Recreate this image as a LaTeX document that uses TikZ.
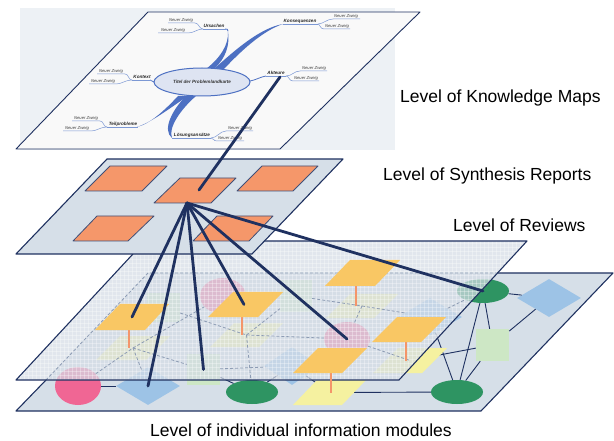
\documentclass[tikz,border=0pt]{standalone}
\usepackage{fontspec}
\setmainfont{Liberation Sans}
\usetikzlibrary{shapes.geometric}

\definecolor{navy}{HTML}{1F3160}
\definecolor{planefill}{HTML}{D6DFE8}
\definecolor{revfill}{HTML}{D5DDE6}
\definecolor{orangebox}{HTML}{F5976A}
\definecolor{yellowbox}{HTML}{F9C764}
\definecolor{stemcol}{HTML}{F4956A}
\definecolor{pinkmod}{HTML}{F06694}
\definecolor{bluemod}{HTML}{9DC3E6}
\definecolor{greenmod}{HTML}{2E9462}
\definecolor{lgreenmod}{HTML}{CDE7C5}
\definecolor{lyellowmod}{HTML}{F5F1A0}
\definecolor{dashcol}{HTML}{8D9CB4}
\definecolor{mapbg}{HTML}{EDF1F5}
\definecolor{mapplane}{HTML}{F9F9F9}
\definecolor{mapblue}{HTML}{4D70C2}
\definecolor{mapthin}{HTML}{7C98D4}
\definecolor{ellfill}{HTML}{DEE4F2}

\begin{document}
\begin{tikzpicture}[x=1pt,y=-1pt,
  plane/.style={fill=planefill,draw=navy,line width=1.1pt,line join=round},
  orangerect/.style={fill=orangebox,draw=navy!85,line width=0.8pt,line join=round},
  reviewrect/.style={fill=yellowbox},
  stem/.style={draw=stemcol,line width=2.4pt},
  ray/.style={draw=navy,line width=2.8pt,line cap=round},
  link/.style={draw=navy,line width=0.9pt},
  hidlink/.style={draw=dashcol,line width=0.8pt,dash pattern=on 3pt off 2pt},
  gridl/.style={draw=white,line width=0.5pt,opacity=0.32},
  pinkdot/.style={ellipse,fill=pinkmod,minimum width=46pt,minimum height=38pt,inner sep=0pt},
  bluedia/.style={diamond,fill=bluemod,minimum width=64pt,minimum height=38pt,inner sep=0pt},
  lgsq/.style={rectangle,fill=lgreenmod,minimum width=33pt,minimum height=31pt,inner sep=0pt},
  greenell/.style={ellipse,fill=greenmod,minimum width=52pt,minimum height=24pt,inner sep=0pt},
  mapline/.style={draw=mapthin,line width=0.5pt},
  mtext/.style={font=\fontsize{4.2}{5}\selectfont\itshape,text=black!75,inner sep=0pt},
  mtopic/.style={font=\fontsize{4.6}{5}\selectfont\bfseries\itshape,text=black!85,inner sep=0pt},
  lbl/.style={font=\fontsize{17.5}{20}\selectfont,anchor=west,inner sep=0pt,text=black}]
\useasboundingbox (0,0) rectangle (614,441);

% ---------- knowledge map level ----------
\fill[mapbg] (20,8) rectangle (395,150);
\draw[plane,fill=mapplane,line width=0.9pt] (148,12) -- (420,12) -- (280,149) -- (16,149) -- cycle;

% tapered main branches
\fill[mapblue] (206,69) .. controls (220,58) and (229,45) .. (228,31) .. controls (230,45) and (226,58) .. (214,69) -- cycle;
\draw[mapline,line width=0.8pt,draw=mapblue] (228,31) .. controls (228,29) and (227,29) .. (225,29);
\fill[mapblue] (214,69) .. controls (235,50) and (260,28) .. (283,24) .. controls (262,31) and (240,52) .. (224,69) -- cycle;
\fill[mapblue] (178,96) .. controls (165,110) and (150,124) .. (137,127) .. controls (152,122) and (170,108) .. (188,96) -- cycle;
\fill[mapblue] (186,96) .. controls (172,110) and (162,130) .. (172,138) .. controls (168,128) and (180,110) .. (196,96) -- cycle;
\draw[mapline,line width=0.8pt,draw=mapblue] (154,82) -- (150,80);
\draw[mapline,line width=0.8pt,draw=mapblue] (250,81) .. controls (256,80) and (260,77) .. (266,76);

% central topic
\node[ellipse,draw=mapblue,fill=ellfill,line width=1pt,minimum width=96pt,minimum height=28pt,inner sep=0pt,
      font=\fontsize{4.6}{5}\selectfont\bfseries\itshape,text=black!80] (title) at (202,82) {Titel der Problemlandkarte};

% topics with underlines
\node[mtopic] (urs) at (214,26) {Ursachen};
\draw[mapline] (203,29) -- (226,29);
\node[mtopic] (kons) at (300,21) {Konsequenzen};
\draw[mapline] (283,24) -- (318,24);
\node[mtopic] (akt) at (276,73) {Akteure};
\draw[mapline] (266,76) -- (286,76);
\node[mtopic] (kont) at (142,77) {Kontext};
\draw[mapline] (132,80) -- (152,80);
\node[mtopic] (teil) at (123,124) {Teilprobleme};
\draw[mapline] (107,127) -- (138,127);
\node[mtopic] (loes) at (192,135) {Lösungsansätze};
\draw[mapline] (172,138) -- (211,138);

% sub-branches
\draw[mapline] (203,29) .. controls (199,29) and (199,23) .. (195,23) -- (168,23);
\draw[mapline] (203,29) .. controls (197,29) and (194,33) .. (188,33) -- (158,33);
\node[mtext] (urs1) at (181,20.5) {Neuer Zweig};
\node[mtext] (urs2) at (173,30.5) {Neuer Zweig};
\draw[mapline] (318,24) .. controls (323,24) and (327,19) .. (333,19) -- (360,19);
\draw[mapline] (318,24) .. controls (320,24) and (320,29) .. (324,29) -- (350,29);
\node[mtext] (kons1) at (346,16.5) {Neuer Zweig};
\node[mtext] (kons2) at (337,26.5) {Neuer Zweig};
\draw[mapline] (286,76) .. controls (292,76) and (294,71) .. (300,71) -- (327,71);
\draw[mapline] (286,76) .. controls (289,76) and (289,81) .. (293,81) -- (319,81);
\node[mtext] (akt1) at (314,68.5) {Neuer Zweig};
\node[mtext] (akt2) at (306,78.5) {Neuer Zweig};
\draw[mapline] (132,80) .. controls (128,80) and (129,74) .. (125,74) -- (97,74);
\draw[mapline] (132,80) .. controls (125,80) and (122,84) .. (116,84) -- (89,84);
\node[mtext] (kont1) at (111,71.5) {Neuer Zweig};
\node[mtext] (kont2) at (103,81.5) {Neuer Zweig};
\draw[mapline] (107,127) .. controls (103,127) and (104,121) .. (100,121) -- (72,121);
\draw[mapline] (107,127) .. controls (100,127) and (97,131) .. (91,131) -- (63,131);
\node[mtext] (teil1) at (86,118.5) {Neuer Zweig};
\node[mtext] (teil2) at (77,128.5) {Neuer Zweig};
\draw[mapline] (211,138) .. controls (217,138) and (220,131) .. (226,131) -- (253,131);
\draw[mapline] (211,138) .. controls (214,138) and (213,141) .. (217,141) -- (244,141);
\node[mtext] (loes1) at (240,128.5) {Neuer Zweig};
\node[mtext] (loes2) at (230,138.5) {Neuer Zweig};
\coordinate (aktlink) at (280,77);

% ---------- level of individual information modules ----------
\fill[planefill] (16,411) -- (481,411) -- (613,273) -- (148,273) -- cycle;
\draw[navy,line width=1.1pt,line join=round] (498,273) -- (613,273) -- (481,411) -- (16,411) -- (46,380);

\node[pinkdot] (n1) at (78,386) {};
\node[bluedia] (n2) at (148,386) {};
\node[lgsq] (n3) at (203.5,369.5) {};
\node[greenell] (n4) at (252,392) {};
\node[bluedia,minimum width=56pt] (n5) at (292,366) {};
\coordinate (n6) at (330,392.5);
\coordinate (n7) at (133,348);
\node[lgsq,minimum height=29pt] (n8) at (163.5,307.5) {};
\node[pinkdot,minimum height=36pt] (n9) at (223,296) {};
\coordinate (n10) at (246.5,335);
\node[lgsq,minimum width=32pt,minimum height=32pt] (n11) at (296,296) {};
\coordinate (n12) at (362,306);
\node[pinkdot,minimum height=34pt] (n13) at (347,339) {};
\node[bluedia] (n14) at (430,317) {};
\node[greenell] (n15) at (483,291) {};
\node[bluedia] (n16) at (549,298) {};
\node[lgsq,minimum height=32pt] (n17) at (492.5,345) {};
\node[greenell] (n18) at (457,392) {};
\coordinate (n19) at (410,360.5);

% module links
\draw[link] (n1) -- (n2);
\draw[link] (n3) -- (n4);
\draw[link] (n4) -- (n5);
\draw[link] (n5) -- (n6);
\draw[link] (n6) -- (n18);
\draw[link] (n15) -- (n16);
\draw[link] (n15) -- (n17);
\draw[link] (n16) -- (n17);
\draw[link] (n17) -- (n18);
\draw[link] (n15) -- (n18);
\draw[link] (n14) -- (n18);
\draw[link] (n19) -- (n17);

% yellow modules
\fill[lyellowmod] (120,336) -- (170,336) -- (146,360) -- (96,360) -- cycle;
\fill[lyellowmod] (234,323) -- (283,323) -- (259,347) -- (210,347) -- cycle;
\fill[lyellowmod] (350,294) -- (398,294) -- (374,318) -- (326,318) -- cycle;
\fill[lyellowmod] (317,380) -- (366,380) -- (342,405) -- (293,405) -- cycle;
\fill[lyellowmod] (398,348) -- (447,348) -- (422,373) -- (373,373) -- cycle;

% ---------- level of reviews (translucent, gridded) ----------
\begin{scope}
  \clip (16,380) -- (399,380) -- (527,241) -- (145,241) -- cycle;
  \fill[revfill,opacity=0.72] (0,230) rectangle (540,390);
  \foreach \gx in {16,20,...,528} \draw[gridl] (\gx,241) -- (\gx,380);
  \foreach \gy in {243,247,...,379} \draw[gridl] (16,\gy) -- (528,\gy);
\end{scope}
\draw[hidlink] (498,273) -- (148,273) -- (46,380);
\draw[hidlink] (n1) -- (n7);
\draw[hidlink] (n7) -- (n2);
\draw[hidlink] (n7) -- (n3);
\draw[hidlink] (n7) -- (n9);
\draw[hidlink] (n8) -- (n10);
\draw[hidlink] (n3) -- (n5);
\draw[hidlink] (n10) -- (n4);
\draw[hidlink] (n10) -- (n11);
\draw[hidlink] (n10) -- (n13);
\draw[hidlink] (n11) -- (n12);
\draw[hidlink] (n12) -- (n13);
\draw[hidlink] (n12) -- (n14);
\draw[hidlink] (n14) -- (n15);
\draw[hidlink] (n13) -- (n19);
\draw[navy,line width=1.1pt,line join=round] (16,380) -- (399,380) -- (527,241) -- (145,241) -- cycle;

% reviews and their links down to the modules
\coordinate (r1) at (132,317);
\coordinate (r2) at (244,304.5);
\coordinate (r3) at (362.5,273);
\coordinate (r4) at (409,329.5);
\coordinate (r5) at (330,360.5);
\coordinate (s1) at (129,330);
\coordinate (s2) at (242,317);
\coordinate (s3) at (356,286);
\coordinate (s4) at (406,342);
\coordinate (s5) at (331,373);
\draw[stem] (s1) -- (s1 |- n7);
\draw[stem] (s2) -- (s2 |- n10);
\draw[stem] (s3) -- (s3 |- n12);
\draw[stem] (s4) -- (s4 |- n19);
\draw[stem] (s5) -- (s5 |- n6);
\fill[reviewrect] (120,304) -- (169,304) -- (145,330) -- (95,330) -- cycle;
\fill[reviewrect] (233,292) -- (283,292) -- (258,317) -- (208,317) -- cycle;
\fill[reviewrect] (350,260) -- (400,260) -- (375,286) -- (325,286) -- cycle;
\fill[reviewrect] (397,317) -- (446,317) -- (421,342) -- (372,342) -- cycle;
\fill[reviewrect] (318,348) -- (367,348) -- (342,373) -- (293,373) -- cycle;

% ---------- level of synthesis reports ----------
\draw[plane] (107,159) -- (343,159) -- (252,254) -- (16,254) -- cycle;
\draw[orangerect] (110,166) -- (167,166) -- (142,191) -- (85,191) -- cycle;
\draw[orangerect] (180,178) -- (236,178) -- (211,203) -- (154,203) -- cycle;
\draw[orangerect] (262,166) -- (318,166) -- (293,191) -- (237,191) -- cycle;
\draw[orangerect] (97,216) -- (154,216) -- (128,241) -- (73,241) -- cycle;
\draw[orangerect] (217,216) -- (273,216) -- (249,241) -- (193,241) -- cycle;
\coordinate (synC) at (199,190);
\coordinate (hub) at (187,203);

% ---------- links between the levels ----------
\draw[ray] (aktlink) -- (synC);
\draw[ray] (hub) -- (r1);
\draw[ray] (hub) -- (n2.center);
\draw[ray] (hub) -- (n3.center);
\draw[ray] (hub) -- (r2);
\draw[ray] (hub) -- (n13.center);
\draw[ray] (hub) -- (n15.center);

% ---------- level names ----------
\node[lbl] (lk) at (400,98) {Level of Knowledge Maps};
\node[lbl] (ls) at (383,176) {Level of Synthesis Reports};
\node[lbl] (lr) at (453,225) {Level of Reviews};
\node[lbl] (lm) at (150,430.5) {Level of individual information modules};
\end{tikzpicture}
\end{document}
